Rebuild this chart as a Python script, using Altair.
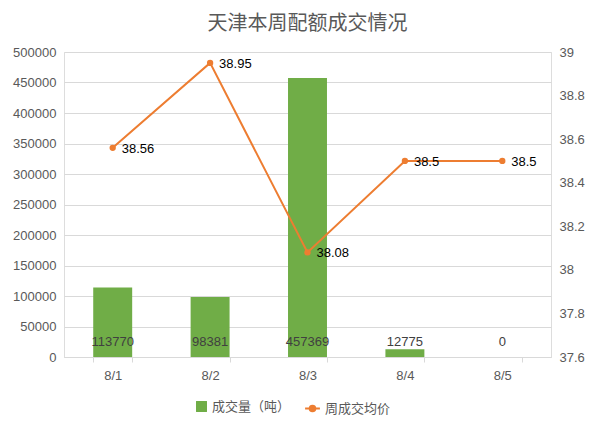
import altair as alt
import pandas as pd

dates = ["8/1", "8/2", "8/3", "8/4", "8/5"]
volumes = [113770, 98381, 457369, 12775, 0]
prices = [38.56, 38.95, 38.08, 38.5, 38.5]
left_ticks = [0, 50000, 100000, 150000, 200000, 250000, 300000, 350000, 400000, 450000, 500000]
right_ticks = [37.6, 37.8, 38.0, 38.2, 38.4, 38.6, 38.8, 39.0]

df = pd.DataFrame({
    "date": dates,
    "volume": volumes,
    "price": prices,
    "base": [0] * 5,
    "s1": ["成交量（吨）"] * 5,
    "s2": ["周成交均价"] * 5,
})

GREEN = "#70AD47"
ORANGE = "#ED7D31"
GRAY = "#595959"
FONT = "Noto Sans CJK SC"
NUMFONT = "Liberation Sans"

x = alt.X("date:N", sort=dates, title=None,
          scale=alt.Scale(paddingInner=0.6, paddingOuter=0.3),
          axis=alt.Axis(labelAngle=0, labelColor=GRAY, labelFontSize=13, labelFont=NUMFONT,
                        domainColor="#D9D9D9", ticks=True, tickBand="extent", tickColor="#D9D9D9",
                        tickSize=5, labelPadding=7))

left_scale = alt.Scale(domain=[0, 500000], nice=False)
left_axis = alt.Axis(values=left_ticks, format="d", labelColor=GRAY, labelFontSize=13,
                     labelFont=NUMFONT, domain=False, ticks=False, labelOverlap=False,
                     gridColor="#D9D9D9", labelPadding=8)

right_scale = alt.Scale(domain=[37.6, 39], nice=False, zero=False)
right_axis = alt.Axis(values=right_ticks, format="~g", orient="right", labelColor=GRAY,
                      labelFontSize=13, labelFont=NUMFONT, domain=False, ticks=False,
                      grid=False, labelOverlap=False, labelPadding=8)

bars = alt.Chart(df).mark_bar().encode(
    x=x,
    y=alt.Y("volume:Q", title=None, scale=left_scale, axis=left_axis),
    fill=alt.Fill("s1:N", scale=alt.Scale(range=[GREEN]),
                  legend=alt.Legend(title=None, orient="none", legendX=131, legendY=348,
                                    symbolType="square",
                                    labelFont=FONT, labelFontSize=13, labelColor=GRAY,
                                    symbolSize=120, symbolStrokeWidth=0)),
)

bar_labels = alt.Chart(df).mark_text(dy=-15, fontSize=13, color="#404040", font=NUMFONT).encode(
    x=alt.X("date:N", sort=dates),
    y=alt.Y("base:Q", title=None, scale=left_scale, axis=left_axis),
    text=alt.Text("volume:Q", format="d"),
)

left = alt.layer(bars, bar_labels)

legend_path = "M-1,0H1M0.38,0A0.38,0.38,0,1,1,-0.38,0A0.38,0.38,0,1,1,0.38,0Z"

yr = alt.Y("price:Q", title=None, scale=right_scale, axis=right_axis)

line = alt.Chart(df).mark_line(strokeWidth=2).encode(
    x=alt.X("date:N", sort=dates),
    y=yr,
    stroke=alt.Stroke("s2:N", scale=alt.Scale(range=[ORANGE]),
                      legend=alt.Legend(title=None, orient="none", legendX=240, legendY=348,
                                        symbolType=legend_path,
                                        symbolFillColor=ORANGE, symbolStrokeWidth=2, symbolSize=220,
                                        labelFont=FONT, labelFontSize=13, labelColor=GRAY)),
)

pts = alt.Chart(df).mark_circle(size=40, color=ORANGE, opacity=1).encode(
    x=alt.X("date:N", sort=dates),
    y=yr,
)

price_labels = alt.Chart(df).mark_text(align="left", dx=9, dy=1, fontSize=13, color="#000000",
                                       font=NUMFONT).encode(
    x=alt.X("date:N", sort=dates),
    y=yr,
    text=alt.Text("price:Q", format="~g"),
)

right = alt.layer(line, pts, price_labels)

chart = alt.layer(left, right).resolve_scale(y="independent", fill="independent", stroke="independent").properties(
    width=487,
    height=305,
    title=alt.TitleParams("天津本周配额成交情况", font=FONT, fontSize=20, fontWeight="normal",
                          color=GRAY, anchor="middle", offset=12),
    autosize=alt.AutoSizeParams(type="none"),
    padding={"left": 56, "top": 44, "right": 41, "bottom": 64},
).configure_view(stroke=None).configure(background="white")

chart.save("out.html", embed_options={"renderer": "svg", "actions": False})
